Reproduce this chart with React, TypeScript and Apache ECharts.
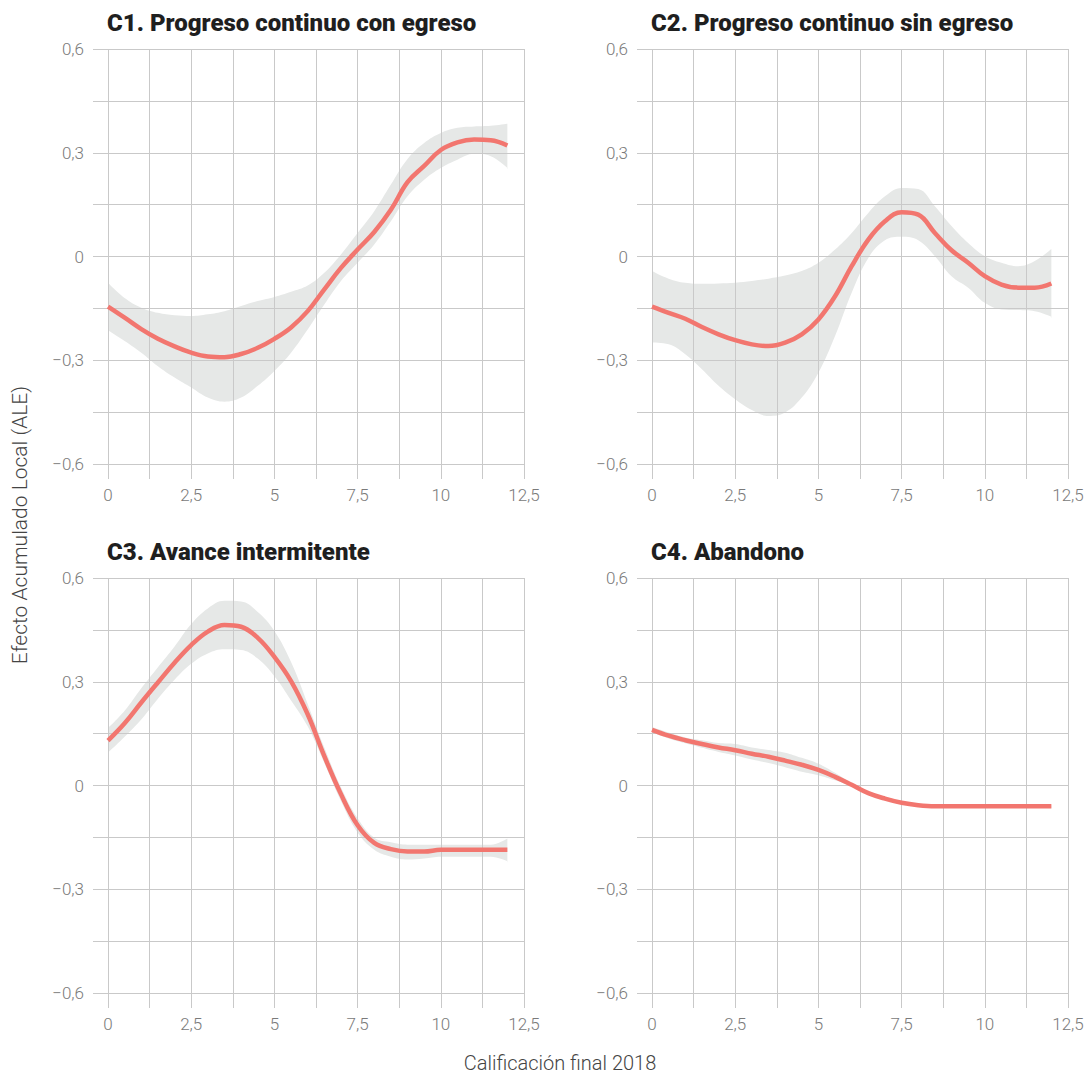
import React, { useEffect, useRef } from "react";
import * as echarts from "echarts";

// ---- data ----
const xValues = [0, 0.5, 1, 1.5, 2, 2.5, 3, 3.5, 4, 4.5, 5, 5.5, 6, 6.5, 7, 7.5, 8, 8.5, 9, 9.5, 10, 10.5, 11, 11.5, 12];

const panelTitles = [
  "C1. Progreso continuo con egreso",
  "C2. Progreso continuo sin egreso",
  "C3. Avance intermitente",
  "C4. Abandono",
];

const c1Line = [-0.145, -0.177, -0.21, -0.238, -0.26, -0.278, -0.289, -0.291, -0.282, -0.264, -0.238, -0.205, -0.158, -0.095, -0.033, 0.02, 0.071, 0.135, 0.215, 0.262, 0.308, 0.33, 0.338, 0.336, 0.321];
const c1Upper = [-0.076, -0.12, -0.148, -0.163, -0.17, -0.172, -0.167, -0.158, -0.143, -0.129, -0.117, -0.102, -0.084, -0.047, 0.006, 0.068, 0.131, 0.208, 0.282, 0.328, 0.357, 0.372, 0.376, 0.378, 0.384];
const c1Lower = [-0.213, -0.244, -0.278, -0.317, -0.35, -0.379, -0.408, -0.42, -0.408, -0.374, -0.331, -0.278, -0.211, -0.139, -0.071, -0.018, 0.035, 0.102, 0.174, 0.222, 0.256, 0.28, 0.297, 0.29, 0.256];

const c2Line = [-0.145, -0.163, -0.18, -0.204, -0.225, -0.242, -0.254, -0.259, -0.249, -0.225, -0.182, -0.115, -0.028, 0.049, 0.102, 0.128, 0.121, 0.068, 0.018, -0.018, -0.057, -0.081, -0.09, -0.09, -0.078];
const c2Upper = [-0.042, -0.064, -0.076, -0.079, -0.078, -0.076, -0.071, -0.064, -0.055, -0.042, -0.018, 0.02, 0.068, 0.126, 0.174, 0.198, 0.195, 0.145, 0.088, 0.039, 0.001, -0.018, -0.028, -0.013, 0.022];
const c2Lower = [-0.249, -0.254, -0.283, -0.326, -0.374, -0.413, -0.444, -0.461, -0.451, -0.408, -0.336, -0.23, -0.105, -0.004, 0.047, 0.057, 0.047, 0.001, -0.057, -0.09, -0.134, -0.153, -0.155, -0.158, -0.174];

const c3Line = [0.13, 0.18, 0.24, 0.298, 0.355, 0.406, 0.445, 0.464, 0.459, 0.427, 0.372, 0.302, 0.206, 0.085, -0.025, -0.115, -0.166, -0.184, -0.191, -0.191, -0.186, -0.186, -0.186, -0.186, -0.186];
const c3Upper = [0.166, 0.216, 0.281, 0.342, 0.402, 0.467, 0.512, 0.534, 0.532, 0.502, 0.447, 0.357, 0.236, 0.11, -0.005, -0.095, -0.151, -0.164, -0.171, -0.171, -0.171, -0.171, -0.171, -0.171, -0.153];
const c3Lower = [0.095, 0.141, 0.191, 0.251, 0.306, 0.352, 0.382, 0.394, 0.392, 0.367, 0.316, 0.246, 0.171, 0.065, -0.045, -0.136, -0.186, -0.206, -0.214, -0.211, -0.206, -0.206, -0.206, -0.206, -0.219];

const c4Line = [0.161, 0.144, 0.131, 0.12, 0.11, 0.102, 0.092, 0.083, 0.072, 0.06, 0.045, 0.025, 0.002, -0.022, -0.038, -0.05, -0.057, -0.06, -0.06, -0.06, -0.06, -0.06, -0.06, -0.06, -0.06];
const c4Upper = [0.169, 0.153, 0.139, 0.131, 0.123, 0.12, 0.11, 0.103, 0.095, 0.08, 0.063, 0.037, 0.007, -0.017, -0.035, -0.047, -0.054, -0.057, -0.057, -0.057, -0.057, -0.057, -0.057, -0.057, -0.057];
const c4Lower = [0.153, 0.136, 0.122, 0.109, 0.097, 0.087, 0.075, 0.065, 0.053, 0.04, 0.03, 0.015, -0.003, -0.025, -0.041, -0.053, -0.06, -0.063, -0.063, -0.063, -0.063, -0.063, -0.063, -0.063, -0.063];

const xTickLabels = ["0", "2,5", "5", "7,5", "10", "12,5"];
const yTickLabels = ["\u22120,6", "\u22120,3", "0", "0,3", "0,6"];

const xAxisName = "Calificación final 2018";
const yAxisName = "Efecto Acumulado Local (ALE)";

const panels = [
  { line: c1Line, upper: c1Upper, lower: c1Lower },
  { line: c2Line, upper: c2Upper, lower: c2Lower },
  { line: c3Line, upper: c3Upper, lower: c3Lower },
  { line: c4Line, upper: c4Upper, lower: c4Lower },
];

// ---- styling / layout ----
const GRID_COLOR = "#c9c9c9";
const LABEL_COLOR = "#7a7a7a";
const LINE_COLOR = "#f2766f";
const BAND_COLOR = "#e6e8e7";
const FONT = "Roboto";

const gridPos = [
  { left: 108, top: 49 },
  { left: 652, top: 49 },
  { left: 108, top: 578 },
  { left: 652, top: 578 },
];
const GRID_W = 416;
const GRID_H = 415;

export default function App() {
  const ref = useRef<HTMLDivElement>(null);

  useEffect(() => {
    if (!ref.current) return;
    const chart = echarts.init(ref.current, null, { renderer: "svg" });

    const grids = gridPos.map((g) => ({
      left: g.left,
      top: g.top,
      width: GRID_W,
      height: GRID_H,
      containLabel: false,
    }));

    const xAxes = gridPos.map((_, i) => ({
      type: "value",
      gridIndex: i,
      min: 0,
      max: 12.5,
      interval: 2.5,
      axisLine: { show: false, onZero: false },
      axisTick: { show: true, length: 15, lineStyle: { color: GRID_COLOR, width: 1 } },
      minorTick: { show: true, splitNumber: 2, length: 15, lineStyle: { color: GRID_COLOR, width: 1 } },
      splitLine: { show: true, lineStyle: { color: GRID_COLOR, width: 1 } },
      minorSplitLine: { show: true, lineStyle: { color: GRID_COLOR, width: 1 } },
      axisLabel: {
        margin: 22,
        color: LABEL_COLOR,
        fontFamily: FONT,
        fontWeight: 300,
        fontSize: 17,
        formatter: (_v: number, idx: number) => xTickLabels[idx] ?? "",
      },
    }));

    const yAxes = gridPos.map((_, i) => ({
      type: "value",
      gridIndex: i,
      min: -0.6,
      max: 0.6,
      interval: 0.3,
      axisLine: { show: false, onZero: false },
      axisTick: { show: true, length: 15, lineStyle: { color: GRID_COLOR, width: 1 } },
      minorTick: { show: true, splitNumber: 2, length: 15, lineStyle: { color: GRID_COLOR, width: 1 } },
      splitLine: { show: true, lineStyle: { color: GRID_COLOR, width: 1 } },
      minorSplitLine: { show: true, lineStyle: { color: GRID_COLOR, width: 1 } },
      axisLabel: {
        margin: 24,
        color: LABEL_COLOR,
        fontFamily: FONT,
        fontWeight: 300,
        fontSize: 17,
        formatter: (_v: number, idx: number) => yTickLabels[idx] ?? "",
      },
    }));

    const series: any[] = [];
    panels.forEach((p, i) => {
      const upperData = xValues.map((x, k) => [x, p.upper[k]]);
      const lowerData = xValues.map((x, k) => [x, p.lower[k]]);
      const lineData = xValues.map((x, k) => [x, p.line[k]]);
      const lastX = xValues[xValues.length - 1];
      const lastLower = p.lower[p.lower.length - 1];
      // band: grey area under the upper bound, then white area under the lower bound;
      // both sit beneath the grid lines (negative z)
      series.push({
        type: "line",
        xAxisIndex: i,
        yAxisIndex: i,
        data: upperData,
        smooth: 0.4,
        symbol: "none",
        lineStyle: { width: 0, opacity: 0 },
        areaStyle: { color: BAND_COLOR, opacity: 1, origin: "start" },
        z: -4,
        silent: true,
      });
      series.push({
        type: "line",
        xAxisIndex: i,
        yAxisIndex: i,
        data: lowerData,
        smooth: 0.4,
        symbol: "none",
        lineStyle: { width: 0, opacity: 0 },
        areaStyle: { color: "#ffffff", opacity: 1, origin: "start" },
        z: -3,
        silent: true,
      });
      // white cover for the seam under the band's right end
      series.push({
        type: "custom",
        xAxisIndex: i,
        yAxisIndex: i,
        data: [[lastX, lastLower]],
        silent: true,
        z: -2,
        renderItem: (params: any, api: any) => {
          const pt = api.coord([api.value(0), api.value(1)]);
          const bottom = api.coord([api.value(0), -0.6]);
          return {
            type: "rect",
            shape: { x: pt[0] - 1.5, y: pt[1] + 1, width: 4, height: bottom[1] - pt[1] - 1 },
            style: { fill: "#ffffff" },
          };
        },
      });
      series.push({
        type: "line",
        xAxisIndex: i,
        yAxisIndex: i,
        data: lineData,
        smooth: 0.4,
        symbol: "none",
        lineStyle: { color: LINE_COLOR, width: 4.5 },
        z: 5,
      });
    });

    const titles = gridPos.map((g, i) => ({
      text: panelTitles[i],
      left: g.left - 1,
      top: g.top - 38,
      padding: 0,
      textStyle: {
        fontFamily: FONT,
        fontWeight: 900,
        fontSize: 24,
        color: "#1f1f1f",
      },
    }));

    chart.setOption({
      animation: false,
      backgroundColor: "#ffffff",
      title: titles,
      grid: grids,
      xAxis: xAxes,
      yAxis: yAxes,
      series,
      graphic: [
        {
          type: "text",
          x: 20,
          y: 525,
          rotation: Math.PI / 2,
          style: {
            text: yAxisName,
            fontFamily: FONT,
            fontWeight: 300,
            fontSize: 21,
            fill: "#444444",
            align: "center",
            verticalAlign: "middle",
          },
        },
        {
          type: "text",
          x: 560,
          y: 1063,
          style: {
            text: xAxisName,
            fontFamily: FONT,
            fontWeight: 300,
            fontSize: 20,
            fill: "#444444",
            align: "center",
            verticalAlign: "middle",
          },
        },
      ],
    });

    return () => chart.dispose();
  }, []);

  return (
    <div
      ref={ref}
      style={{ position: "fixed", left: 0, top: 0, width: 1090, height: 1076, background: "#fff" }}
    />
  );
}
